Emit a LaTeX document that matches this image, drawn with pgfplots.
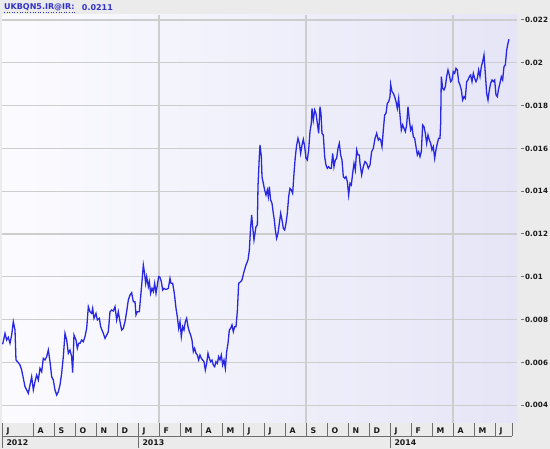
\documentclass[border=0pt]{standalone}
\usepackage{fontspec}
\setmainfont{DejaVu Sans}
\usepackage{pgfplots}
\pgfplotsset{compat=1.18}
\definecolor{bggray}{RGB}{235,235,235}
\definecolor{plotL}{RGB}{251,251,255}
\definecolor{plotR}{RGB}{229,229,247}
\definecolor{gridc}{RGB}{205,205,205}
\definecolor{linec}{RGB}{40,40,225}
\definecolor{titleblue}{RGB}{50,50,200}
\definecolor{sepc}{RGB}{110,110,110}
\definecolor{labc}{RGB}{25,25,25}
\newcommand\yl[1]{\textcolor{sepc}{\rule[2.4pt]{3pt}{0.8pt}}\hspace{1.2pt}#1}
\pgfplotstableread{
m v
5.556 0.006844
5.667 0.007358
5.746 0.007046
5.825 0.007171
5.905 0.006890
5.984 0.007280
6.063 0.007903
6.143 0.007514
6.190 0.006112
6.302 0.005987
6.381 0.005878
6.460 0.005644
6.540 0.005255
6.619 0.004865
6.698 0.004710
6.778 0.004554
6.857 0.004943
6.937 0.005333
7.016 0.004710
7.095 0.005099
7.175 0.005411
7.254 0.005177
7.333 0.005722
7.413 0.005566
7.492 0.006189
7.571 0.006112
7.651 0.006267
7.730 0.006579
7.810 0.006034
7.889 0.005333
7.968 0.005177
8.048 0.004710
8.127 0.004476
8.206 0.004632
8.286 0.004943
8.365 0.005489
8.444 0.006267
8.524 0.007358
8.603 0.007046
8.683 0.006423
8.762 0.006579
8.841 0.006267
8.889 0.005520
8.952 0.007280
9.048 0.007046
9.111 0.006657
9.175 0.006890
9.238 0.006890
9.317 0.007046
9.397 0.006968
9.476 0.007202
9.556 0.007592
9.635 0.008604
9.714 0.008370
9.794 0.008292
9.841 0.008526
9.905 0.008059
10.000 0.008292
10.063 0.007981
10.159 0.008059
10.222 0.007670
10.349 0.007358
10.429 0.007124
10.508 0.007280
10.587 0.007436
10.667 0.008370
10.746 0.008448
10.825 0.008401
10.905 0.008604
10.984 0.007981
11.063 0.008370
11.143 0.007903
11.222 0.007514
11.302 0.007592
11.381 0.007903
11.460 0.008370
11.540 0.008915
11.619 0.009149
11.698 0.009258
11.778 0.008838
11.857 0.008838
11.905 0.008215
11.968 0.008370
12.063 0.008370
12.127 0.009071
12.190 0.009772
12.254 0.010551
12.302 0.010240
12.365 0.009694
12.413 0.010006
12.492 0.009539
12.540 0.009772
12.603 0.009227
12.667 0.009461
12.730 0.009305
12.794 0.009694
12.857 0.009227
12.921 0.009616
12.984 0.010006
13.048 0.009975
13.111 0.009772
13.175 0.009383
13.238 0.009461
13.302 0.009414
13.365 0.009414
13.444 0.009461
13.524 0.009928
13.571 0.009694
13.651 0.009694
13.730 0.009227
13.810 0.008526
13.873 0.008137
13.937 0.007591
14.000 0.007903
14.063 0.007202
14.127 0.007670
14.190 0.007514
14.254 0.007903
14.317 0.008059
14.381 0.007670
14.444 0.007436
14.508 0.007280
14.571 0.007046
14.635 0.006501
14.698 0.006657
14.762 0.006423
14.825 0.006345
14.889 0.006112
14.952 0.006345
15.016 0.006189
15.079 0.006112
15.143 0.006034
15.206 0.005644
15.270 0.005956
15.333 0.006423
15.397 0.006189
15.460 0.006034
15.524 0.006112
15.587 0.005878
15.651 0.005800
15.714 0.006034
15.778 0.005956
15.841 0.006267
15.905 0.006112
15.968 0.006345
16.032 0.005878
16.095 0.006112
16.159 0.005722
16.222 0.006501
16.286 0.006890
16.349 0.007514
16.413 0.007592
16.476 0.007747
16.540 0.007436
16.603 0.007670
16.667 0.007670
16.730 0.008370
16.794 0.009694
16.889 0.009772
16.952 0.009850
17.048 0.010240
17.143 0.010551
17.238 0.010785
17.302 0.011252
17.365 0.012342
17.413 0.012887
17.460 0.012342
17.524 0.011719
17.571 0.012031
17.619 0.012342
17.683 0.012420
17.714 0.014211
17.778 0.015613
17.810 0.016159
17.873 0.015613
17.905 0.014679
17.968 0.014367
18.032 0.014056
18.095 0.013822
18.159 0.014056
18.206 0.013744
18.254 0.014211
18.317 0.013588
18.381 0.013433
18.444 0.012965
18.492 0.012654
18.540 0.012186
18.603 0.011797
18.667 0.012031
18.730 0.012498
18.794 0.012965
18.857 0.012654
18.921 0.012264
18.984 0.012186
19.048 0.012498
19.111 0.012965
19.175 0.013744
19.238 0.014133
19.302 0.014056
19.365 0.013900
19.429 0.014835
19.492 0.015613
19.556 0.016159
19.619 0.016470
19.683 0.016236
19.746 0.015769
19.810 0.016159
19.873 0.016423
19.937 0.016081
20.000 0.015535
20.063 0.015458
20.127 0.015925
20.190 0.016782
20.254 0.017171
20.286 0.017872
20.349 0.017327
20.413 0.017794
20.476 0.017638
20.540 0.017171
20.603 0.016704
20.667 0.017950
20.714 0.017638
20.762 0.016704
20.825 0.016626
20.889 0.015613
20.952 0.015224
21.016 0.015068
21.079 0.015146
21.143 0.015068
21.206 0.015068
21.270 0.015769
21.333 0.015146
21.397 0.015458
21.460 0.015535
21.524 0.016003
21.587 0.016236
21.651 0.015691
21.714 0.015458
21.778 0.014679
21.841 0.014601
21.905 0.014679
21.968 0.014445
22.032 0.013822
22.095 0.014367
22.159 0.014289
22.222 0.014835
22.286 0.015302
22.349 0.014990
22.413 0.015925
22.476 0.015691
22.540 0.015691
22.571 0.015302
22.651 0.014757
22.730 0.015146
22.810 0.015380
22.889 0.015302
22.968 0.015069
23.048 0.015224
23.127 0.015847
23.206 0.016003
23.286 0.016470
23.365 0.016704
23.444 0.016393
23.492 0.016470
23.556 0.016393
23.619 0.016081
23.683 0.016860
23.746 0.017561
23.810 0.017639
23.873 0.018106
23.937 0.018184
24.000 0.018418
24.032 0.018994
24.095 0.018651
24.159 0.018573
24.222 0.018418
24.286 0.018184
24.349 0.017872
24.413 0.018340
24.476 0.017561
24.540 0.016860
24.603 0.017094
24.667 0.016938
24.730 0.016782
24.794 0.017094
24.857 0.017950
24.921 0.017327
24.984 0.016860
25.048 0.017016
25.111 0.016548
25.175 0.016470
25.238 0.016081
25.302 0.015692
25.365 0.015847
25.429 0.015614
25.492 0.015847
25.556 0.017094
25.619 0.017016
25.683 0.016704
25.746 0.016237
25.810 0.016626
25.873 0.016393
25.937 0.016237
26.000 0.015925
26.063 0.016081
26.127 0.015536
26.190 0.015925
26.254 0.016237
26.317 0.016470
26.381 0.016470
26.413 0.017172
26.444 0.019352
26.508 0.018807
26.571 0.018729
26.635 0.018885
26.698 0.019352
26.762 0.019664
26.825 0.019430
26.889 0.019119
26.952 0.019197
27.016 0.019586
27.079 0.019508
27.143 0.019742
27.206 0.019664
27.270 0.019119
27.333 0.018963
27.397 0.018729
27.460 0.018262
27.524 0.018418
27.587 0.018340
27.651 0.019119
27.714 0.019197
27.778 0.019352
27.841 0.019430
27.905 0.019119
27.968 0.019508
28.032 0.019274
28.095 0.019119
28.159 0.019274
28.222 0.019664
28.286 0.019352
28.349 0.019820
28.413 0.020053
28.476 0.020365
28.540 0.019508
28.603 0.018573
28.667 0.018262
28.730 0.018729
28.794 0.019041
28.857 0.019197
28.921 0.019119
28.984 0.019197
29.048 0.018496
29.111 0.018418
29.175 0.018807
29.238 0.019041
29.302 0.019352
29.365 0.019197
29.429 0.019820
29.492 0.019898
29.556 0.020598
29.619 0.020910
29.667 0.021100
}\ratedata

\begin{document}
\begin{tikzpicture}
\fill[bggray] (0,0) rectangle (550pt,449pt);
\useasboundingbox (0,0) rectangle (550pt,449pt);
\begin{axis}[
  at={(2pt,26pt)}, anchor=south west,
  scale only axis, width=515pt, height=408pt,
  xmin=5.524, xmax=30.048, ymin=0.003168, ymax=0.022234,
  axis line style={draw=none},
  axis background/.style={shade, left color=plotL, right color=plotR},
  scaled y ticks=false,
  tick align=outside,
  major tick length=13pt,
  xtick pos=left, ytick pos=right,
  ytick={0.004,0.006,0.008,0.01,0.012,0.014,0.016,0.018,0.02,0.022},
  yticklabels={\yl{0.004},\yl{0.006},\yl{0.008},\yl{0.01},\yl{0.012},\yl{0.014},\yl{0.016},\yl{0.018},\yl{0.02},\yl{0.022}},
  yticklabel style={font=\bfseries\fontsize{7.2}{8}\selectfont, text=labc, anchor=west, xshift=-12.5pt},
  ytick style={draw=none},
  xtick={5.524,7,8,9,10,11,12,13,14,15,16,17,18,19,20,21,22,23,24,25,26,27,28,29,29.81},
  xticklabels={J,A,S,O,N,D,J,F,M,A,M,J,J,A,S,O,N,D,J,F,M,A,M,J,{}},
  xticklabel style={font=\bfseries\fontsize{7.8}{9}\selectfont, text=labc, anchor=north west, xshift=1pt, yshift=11.5pt},
  xtick style={sepc, line width=0.8pt},
  extra x ticks={5.524,12,24},
  extra x tick labels={2012,2013,2014},
  extra x tick style={major tick length=25pt},
  minor xtick={13,20,27},
  minor tick length=0pt,
  xminorgrids=true, ymajorgrids=true, xmajorgrids=false,
  major grid style={gridc, line width=1.2pt},
  minor grid style={gridc, line width=1.2pt},
]
\addplot[linec, line width=1.3pt, no markers] table[x=m, y=v] {\ratedata};
\end{axis}
\draw[sepc, line width=0.6pt] (2pt,13pt) -- (512pt,13pt);
\node[anchor=west, inner sep=0pt, text=titleblue, font=\bfseries\fontsize{8}{9}\selectfont] (t1) at (4pt,441.5pt) {UKBQN5.IR@IR:};
\draw[titleblue, dotted, line width=0.6pt] ([yshift=-1pt]t1.south west) -- ([yshift=-1pt]t1.south east);
\node[anchor=west, inner sep=0pt, text=titleblue, font=\bfseries\fontsize{8}{9}\selectfont] at ([xshift=7pt]t1.east) {0.0211};
\end{tikzpicture}
\end{document}
